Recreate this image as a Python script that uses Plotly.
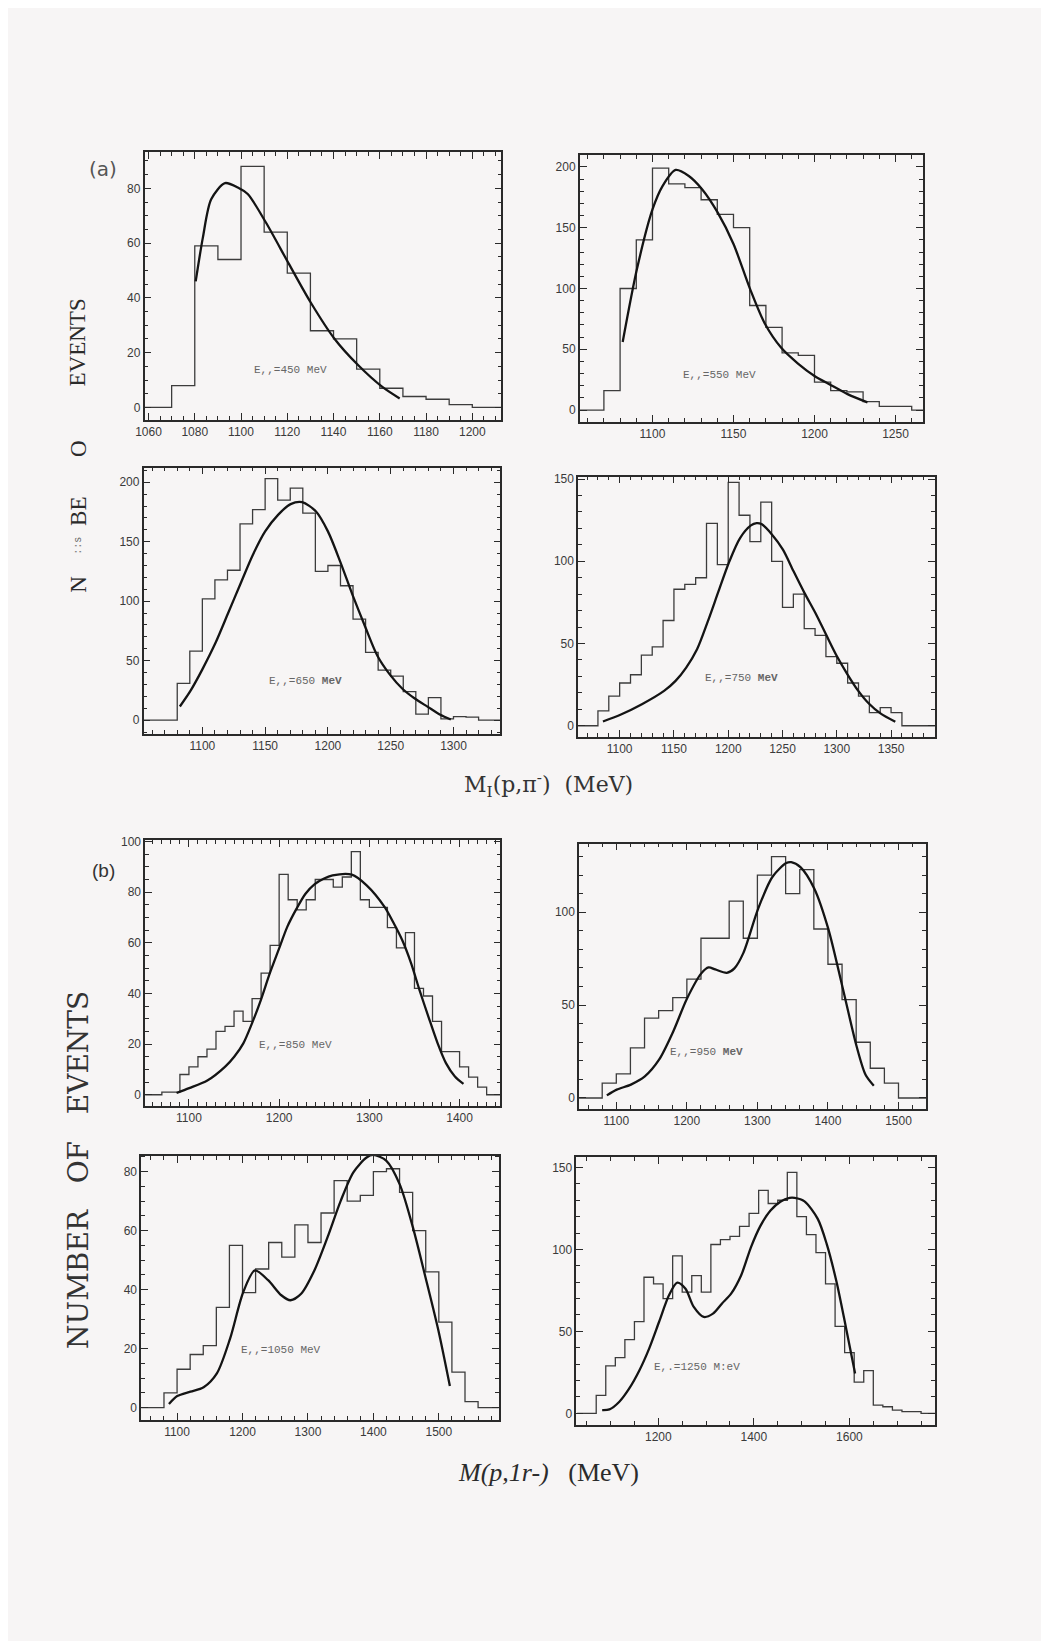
import plotly.graph_objects as go

PAGE_W, PAGE_H = 1049, 1649
MARGIN = 8                      # the page body margin around the figure
OFFX, OFFY = 14, 10             # page position of the figure's origin used for placing items
W, H = PAGE_W - 2 * MARGIN, PAGE_H - 2 * MARGIN
BG = "#f7f5f5"

# ---------------- data ----------------
# panel 1 : E = 450 MeV
p1_bin_start, p1_bin_width = 1050, 10
p1_counts = [0, 0, 8, 59, 54, 88, 64, 49, 28, 25, 14, 7, 4, 3, 1, 0, 0]
p1_fit_x = [1080.4, 1083.5, 1087.1, 1093.1, 1098.6, 1102.9, 1110.7, 1120.7, 1130.0, 1140.4, 1150.7, 1161.1, 1168.6]
p1_fit_y = [46, 62, 76, 81.9, 80.3, 77.9, 67.6, 52.4, 38.5, 25.1, 15.4, 7.5, 3.3]

# panel 2 : E = 550 MeV
p2_bin_start, p2_bin_width = 1050, 10
p2_counts = [0, 0, 16, 100, 140, 199, 186, 183, 173, 161, 150, 86, 68, 47, 45, 23, 16, 15, 7, 3, 3, 0, 0]
p2_fit_x = [1081.6, 1090.4, 1100.0, 1106.1, 1114.3, 1122.4, 1130.6, 1140.2, 1150.0, 1160.2, 1169.4, 1179.6, 1189.8, 1200.0, 1210.2, 1220.4, 1232.7]
p2_fit_y = [56, 116, 165, 184, 197.5, 192.6, 181.7, 162.6, 136.6, 99.7, 71, 51, 38.3, 28.1, 20.5, 13.1, 6.3]

# panel 3 : E = 650 MeV
p3_bin_start, p3_bin_width = 1040, 10
p3_counts = [0, 0, 0, 0, 31, 58, 102, 118, 126, 165, 177, 203, 185, 195, 174, 125, 130, 113, 85, 57,
             42, 37, 24, 5, 19, 1, 3, 2.5, 0, 0, 0]
p3_fit_x = [1082.1, 1090.5, 1100.0, 1110.5, 1120.3, 1130.3, 1140.0, 1150.0, 1160.3, 1170.3, 1179.5, 1190.5,
            1200.0, 1209.7, 1219.5, 1230.0, 1239.5, 1249.2, 1259.7, 1268.9, 1279.5, 1289.5, 1297.9]
p3_fit_y = [11.5, 24.6, 42.7, 65, 89.4, 114.5, 138.5, 158.7, 172.6, 181.6, 183.2, 175.4,
            158.7, 133.5, 105.6, 77.7, 53.9, 38.5, 26, 18.4, 11.2, 4.5, 0.6]

# panel 4 : E = 750 MeV
p4_bin_start, p4_bin_width = 1050, 10
p4_counts = [0, 0, 0, 9, 18, 26, 31, 43, 48, 64, 83, 86, 90, 123, 98, 148, 128, 112, 136, 100,
             72, 80, 59, 55, 42, 38, 26, 18, 8, 11, 8, 0, 0, 0, 0]
p4_fit_x = [1084.6, 1100.7, 1120.5, 1140.9, 1151.5, 1161.3, 1171.3, 1181.3, 1191.1, 1201.1, 1210.9, 1220.9, 1226.1,
            1230.6, 1240.4, 1250.4, 1260.2, 1270.2, 1280.2, 1290.0, 1300.0, 1309.8, 1319.8, 1329.5, 1340.2, 1353.9]
p4_fit_y = [2.6, 6.7, 13.1, 21.2, 27.3, 35.4, 46.5, 63.6, 81.8, 100, 114.1, 121.8, 123.2,
            122.6, 116.2, 107.1, 93.9, 80.8, 68.7, 55.6, 42.4, 31.3, 21.2, 13.5, 7.5, 2.4]

# panel 5 : E = 850 MeV
p5_bin_start, p5_bin_width = 1050, 10
p5_counts = [0, 0, 1, 1, 8, 11, 15, 18, 25, 27, 33, 29, 38, 48, 59, 87, 77, 73, 77, 85, 85, 82, 86, 96,
             77, 74, 74, 66, 58, 64, 42, 39, 29, 17, 17, 11, 7, 3, 0, 0]
p5_fit_x = [1086.3, 1100.3, 1120.4, 1140.5, 1150.4, 1160.3, 1169.9, 1179.7, 1189.6, 1199.9, 1209.0, 1219.3, 1229.2,
            1239.1, 1249.3, 1259.2, 1280.5, 1297.0, 1317.0, 1326.3, 1336.5, 1346.4, 1355.6, 1365.5, 1375.7, 1384.9, 1394.8, 1404.3]
p5_fit_y = [0.7, 2.6, 5.6, 11.2, 15.1, 20.3, 28.2, 37.4, 47.9, 57.7, 66.3, 73.5, 79.4,
            83.1, 85.3, 86.6, 86.9, 82.7, 74.1, 68.2, 61, 51.8, 41.3, 30.8, 20.3, 12.5, 7.2, 4.3]

# panel 6 : E = 950 MeV
p6_bin_start, p6_bin_width = 1040, 20
p6_counts = [0, 0, 8, 13, 27, 43, 47, 54, 64, 86, 86, 106, 86, 120, 130, 110, 123, 91, 72, 53, 30, 16, 8, 0, 0, 0]
p6_fit_x = [1086.6, 1100.6, 1120.7, 1140.4, 1160.6, 1180.7, 1200.4, 1220.5, 1230.8, 1240.2, 1256.6, 1267.4, 1280.0,
            1301.1, 1321.2, 1340.9, 1347.9, 1361.0, 1380.7, 1400.4, 1420.5, 1440.7, 1453.3, 1465.0]
p6_fit_y = [1.4, 4.5, 7.2, 11.6, 20.6, 35.8, 53.7, 67.1, 70.3, 69.2, 67.4, 69.8, 78,
            102, 119, 126.5, 127, 124.3, 112.7, 91.2, 59.9, 27.7, 12.5, 6.6]

# panel 7 : E = 1050 MeV
p7_bin_start, p7_bin_width = 1040, 20
p7_counts = [0, 0, 5, 13, 18, 21, 34, 55, 39, 47, 56, 51, 62, 56, 66, 77, 70, 72, 80, 81, 73, 60, 46, 29, 12, 2, 0, 0, 0]
p7_fit_x = [1087.6, 1100.2, 1120.4, 1140.6, 1160.8, 1181.0, 1201.2, 1218.9, 1239.1, 1259.3, 1273.4, 1289.6, 1309.8,
            1330.0, 1350.2, 1369.4, 1389.6, 1399.7, 1419.9, 1440.1, 1460.3, 1479.5, 1499.2, 1516.9]
p7_fit_y = [1.2, 3.9, 5.4, 6.9, 11.6, 23.4, 39.2, 46.5, 43.2, 38.1, 36.4, 38.6, 46.5,
            57.8, 70.2, 79.8, 84.8, 85.7, 83.7, 75.8, 61.2, 44.3, 26.3, 7.3]

# panel 8 : E = 1250 MeV
p8_bin_start, p8_bin_width = 1030, 20
p8_counts = [0, 0, 11, 29, 34, 45, 56, 83, 79, 70, 96, 74, 84, 74, 103, 106, 108, 114, 122, 136, 128, 130, 147,
             120, 109, 98, 79, 53, 37, 19, 26, 5, 4, 2, 1, 1, 0, 0]
p8_fit_x = [1082.5, 1097.7, 1118.4, 1139.2, 1160.0, 1180.8, 1201.5, 1222.3, 1239.6, 1256.9, 1274.2, 1295.0, 1314.4,
            1333.0, 1352.4, 1373.2, 1394.0, 1414.0, 1434.8, 1455.5, 1474.9, 1485.3, 1506.0, 1533.7, 1552.4, 1573.1, 1592.5, 1611.9]
p8_fit_y = [2, 2.4, 7.1, 15.2, 26, 39.5, 55.7, 72, 79.7, 76, 64.9, 58.8, 60.8,
            66.9, 73, 84.1, 101.4, 114.5, 123.7, 129.1, 131.4, 131.4, 129.3, 118.6, 103.4, 80.1, 52.7, 24.3]

energy_labels = ["E,,=450 MeV", "E,,=550 MeV", "E,,=650 <b>MeV</b>", "E,,=750 <b>MeV</b>",
                 "E,,=850 MeV", "E,,=950 <b>MeV</b>", "E,,=1050 MeV", "E,.=1250 M:eV"]

# ---------------- layout of the page (page pixels) ----------------
panels = [
    dict(counts=p1_counts, b0=p1_bin_start, bw=p1_bin_width, fx=p1_fit_x, fy=p1_fit_y,
         box=(142.7, 502.7, 149.3, 418.3), xr=(1058.3, 1212.6), yr=(-4.6, 93.3),
         xd=20, xm=5, yd=20, ym=5, lab=(290, 368)),
    dict(counts=p2_counts, b0=p2_bin_start, bw=p2_bin_width, fx=p2_fit_x, fy=p2_fit_y,
         box=(581.7, 928, 152.7, 420), xr=(1055.1, 1267), yr=(-9.6, 209.6),
         xd=50, xm=10, yd=50, ym=10, lab=(723, 373)),
    dict(counts=p3_counts, b0=p3_bin_start, bw=p3_bin_width, fx=p3_fit_x, fy=p3_fit_y,
         box=(141.7, 501.7, 466, 733.3), xr=(1053.2, 1337.4), yr=(-11.7, 212.3),
         xd=50, xm=10, yd=50, ym=10, lab=(305, 680)),
    dict(counts=p4_counts, b0=p4_bin_start, bw=p4_bin_width, fx=p4_fit_x, fy=p4_fit_y,
         box=(580, 940, 475, 736), xr=(1061.7, 1390.4), yr=(-6.7, 151.5),
         xd=50, xm=10, yd=50, ym=10, lab=(745, 677)),
    dict(counts=p5_counts, b0=p5_bin_start, bw=p5_bin_width, fx=p5_fit_x, fy=p5_fit_y,
         box=(143.3, 501.7, 839.3, 1106), xr=(1051.5, 1445.3), yr=(-4.3, 100.7),
         xd=100, xm=10, yd=20, ym=5, lab=(295, 1045)),
    dict(counts=p6_counts, b0=p6_bin_start, bw=p6_bin_width, fx=p6_fit_x, fy=p6_fit_y,
         box=(581, 931, 843.3, 1109.3), xr=(1047.2, 1539), yr=(-5.9, 136.9),
         xd=100, xm=20, yd=50, ym=10, lab=(710, 1052)),
    dict(counts=p7_counts, b0=p7_bin_start, bw=p7_bin_width, fx=p7_fit_x, fy=p7_fit_y,
         box=(139.3, 500, 1156.3, 1421.3), xr=(1045.2, 1591.6), yr=(-4.2, 85.4),
         xd=100, xm=20, yd=20, ym=5, lab=(280, 1351)),
    dict(counts=p8_counts, b0=p8_bin_start, bw=p8_bin_width, fx=p8_fit_x, fy=p8_fit_y,
         box=(578.3, 940, 1157.3, 1426.3), xr=(1028.5, 1779), yr=(-7.1, 156.5),
         xd=200, xm=50, yd=50, ym=10, lab=(700, 1368)),
]


def fx_(px):
    return (px - OFFX) / W


def fy_(py):
    return 1 - (py - OFFY) / H


fig = go.Figure()
layout = dict(width=W, height=H, margin=dict(l=0, r=0, t=0, b=0),
              paper_bgcolor=BG, plot_bgcolor=BG, showlegend=False)
annotations = []
tickfont = dict(family="Liberation Sans, Arial, sans-serif", size=12, color="#3a3a3a")

for i, p in enumerate(panels, start=1):
    xa = "x" if i == 1 else f"x{i}"
    ya = "y" if i == 1 else f"y{i}"
    n = len(p["counts"])
    edges = [p["b0"] + k * p["bw"] for k in range(n + 1)]
    hy = list(p["counts"]) + [p["counts"][-1]]
    fig.add_trace(go.Scatter(x=edges, y=hy, mode="lines", line=dict(shape="hv", color="#3c3c3c", width=1.3),
                             xaxis=xa, yaxis=ya, hoverinfo="skip"))
    fig.add_trace(go.Scatter(x=p["fx"], y=p["fy"], mode="lines",
                             line=dict(shape="spline", smoothing=0.8, color="#141414", width=2.3),
                             xaxis=xa, yaxis=ya, hoverinfo="skip"))
    l, r, t, b = p["box"]
    axcommon = dict(showline=True, linecolor="#2a2a2a", linewidth=1.5, mirror="ticks",
                    ticks="inside", ticklen=7, tickwidth=1.2, tickcolor="#2a2a2a",
                    showgrid=False, zeroline=False, tickfont=tickfont)
    layout["xaxis" if i == 1 else f"xaxis{i}"] = dict(
        domain=[fx_(l), fx_(r)], anchor=ya, range=list(p["xr"]), dtick=p["xd"], tick0=0,
        minor=dict(ticks="inside", ticklen=4, dtick=p["xm"], tick0=0, tickcolor="#2a2a2a", showgrid=False),
        **axcommon)
    layout["yaxis" if i == 1 else f"yaxis{i}"] = dict(
        domain=[fy_(b), fy_(t)], anchor=xa, range=list(p["yr"]), dtick=p["yd"], tick0=0,
        minor=dict(ticks="inside", ticklen=4, dtick=p["ym"], tick0=0, tickcolor="#2a2a2a", showgrid=False),
        **axcommon)
    annotations.append(dict(x=fx_(p["lab"][0]), y=fy_(p["lab"][1]), xref="paper", yref="paper",
                            xanchor="center", yanchor="middle",
                            text=energy_labels[i - 1], showarrow=False,
                            font=dict(family="Liberation Mono, Courier New, monospace", size=11, color="#666")))

serif = "Liberation Serif, Times New Roman, serif"
wide_serif = "DejaVu Serif, serif"


def ann(x, y, text, size, family=serif, color="#2b2b2b", angle=0):
    annotations.append(dict(x=fx_(x), y=fy_(y), xref="paper", yref="paper", text=text, showarrow=False,
                            xanchor="center", yanchor="middle",
                            textangle=angle, font=dict(family=family, size=size, color=color)))


ann(101, 166, "(a)", 20, family="DejaVu Sans, sans-serif", color="#555")
ann(101, 870, "(b)", 19, family="Liberation Sans, Arial, sans-serif", color="#333")

# vertical y titles
ann(76, 340, "EVENTS", 23, angle=-90)
ann(76, 447, "O", 23, angle=-90)
ann(76, 510, "BE", 23, angle=-90)
ann(76, 544, "::s", 10, family="Liberation Mono, monospace", color="#666", angle=-90)
ann(76, 583, "N", 23, angle=-90)
ann(76, 1170, "NUMBER   OF   EVENTS", 28, family=wide_serif, color="#333", angle=-90)

# x titles
ann(550, 784, "M<sub>I</sub>(p,π<sup>-</sup>)  (MeV)", 22, family=wide_serif, color="#333")
ann(550, 1474, "<i>M(p,1r-)</i>   (MeV)", 26)

layout["annotations"] = annotations
fig.update_layout(**layout)
fig.write_html("out.html")
